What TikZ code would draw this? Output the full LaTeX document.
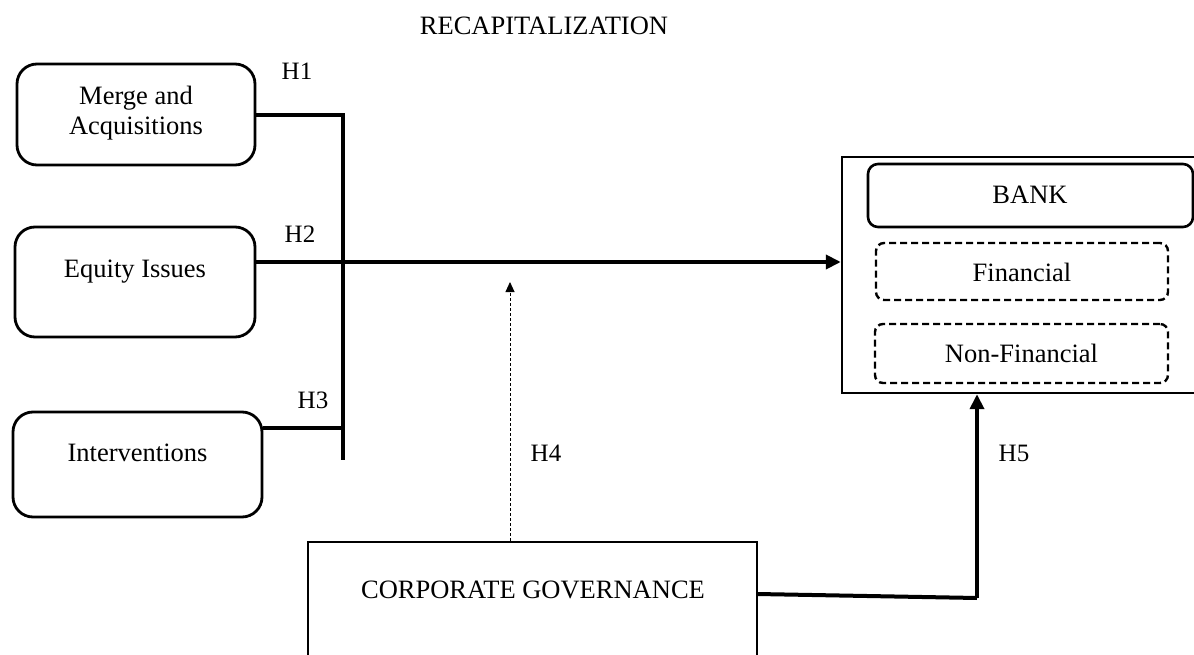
\documentclass[tikz,border=0pt]{standalone}
\usepackage{fontspec}
\setmainfont{Liberation Serif}
\usetikzlibrary{arrows.meta,calc}
\tikzset{
  lbl/.style={font=\fontsize{26.5}{30}\selectfont, inner sep=0pt, align=center},
  hlbl/.style={font=\fontsize{25}{30}\selectfont, inner sep=0pt},
  rbox/.style={draw, line width=2.8pt, rounded corners=20pt, inner sep=0pt},
  bankbox/.style={draw, line width=2.6pt, rounded corners=10pt, inner sep=0pt},
  dbox/.style={draw, line width=2.4pt, rounded corners=8pt, inner sep=0pt, dash pattern=on 7pt off 4pt},
  sqbox/.style={draw, line width=2.4pt, inner sep=0pt},
  conn/.style={line width=4pt},
  arr/.style={line width=4pt, -{Triangle[length=15pt,width=14pt]}},
  darr/.style={line width=0.9pt, dash pattern=on 3pt off 2pt, -{Triangle[length=10pt,width=9pt]}}
}
\begin{document}
\begin{tikzpicture}[x=1pt,y=-1pt]
\useasboundingbox (0,0) rectangle (1194,655);
\clip (0,0) rectangle (1194,655);

% title
\node[lbl] (title) at (544,26) {RECAPITALIZATION};

% left boxes
\node[rbox, minimum width=238pt, minimum height=101pt] (merge) at (136,114.5) {};
\node[lbl] (mergetxt) at (136,113) {Merge and\\Acquisitions};
\node[rbox, minimum width=240pt, minimum height=110pt] (equity) at (135,282) {};
\node[lbl] (equitytxt) at (135,272) {Equity Issues};
\node[rbox, minimum width=249pt, minimum height=105pt] (interv) at (137.5,464.5) {};
\node[lbl] (intervtxt) at (137.5,453) {Interventions};

% bank group
\node[sqbox, minimum width=380pt, minimum height=236pt] (outer) at (1032,275) {};
\node[bankbox, minimum width=325pt, minimum height=63pt] (bank) at (1030.5,195.5) {};
\node[lbl] (banktxt) at (1030,195) {BANK};
\node[dbox, minimum width=292pt, minimum height=57pt] (fin) at (1022,271.5) {};
\node[lbl] (fintxt) at (1022,272) {Financial};
\node[dbox, minimum width=293pt, minimum height=59pt] (nonfin) at (1021.5,353.5) {};
\node[lbl] (nonfintxt) at (1021.5,353) {Non-Financial};

% corporate governance
\node[sqbox, minimum width=449pt, minimum height=180pt] (cg) at (532.5,632) {};
\node[lbl] (cgtxt) at (533,590) {CORPORATE GOVERNANCE};

% hypothesis labels
\node[hlbl] (h1) at (297,71) {H1};
\node[hlbl] (h2) at (300,234) {H2};
\node[hlbl] (h3) at (313,400) {H3};
\node[hlbl] (h4) at (546,453) {H4};
\node[hlbl] (h5) at (1014,453) {H5};

% junction coordinates
\coordinate (bartop) at (343,115);
\coordinate (barbot) at (343,458);
\coordinate (j2) at (343,262);
\coordinate (j3) at (343,428);
\coordinate (h4tip) at (510,282);
\coordinate (h5s) at (757,594);
\coordinate (h5c) at (977,598);

% connectors
\draw[conn] (merge.east |- bartop) -- (bartop);
\draw[conn, line cap=rect] (bartop) -- (barbot);
\draw[conn] (j3 -| interv.east) -- (j3);
\draw[arr] (j2 -| equity.east) -- (j2 -| outer.west);
\draw[darr] (h4tip |- cg.north) -- (h4tip);
\draw[conn] (h5s) -- (h5c);
\draw[arr] (h5c) -- (h5c |- outer.south);
\end{tikzpicture}
\end{document}
